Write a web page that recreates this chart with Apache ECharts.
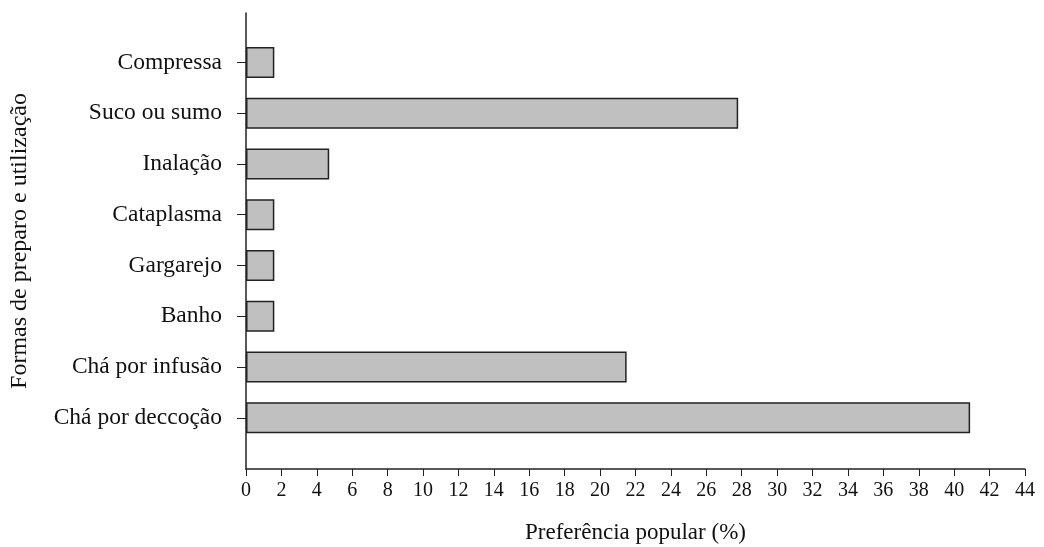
<!DOCTYPE html>
<html><head><meta charset="utf-8">
<script src="https://cdn.jsdelivr.net/npm/echarts@6/dist/echarts.min.js"></script>
<style>html,body{margin:0;padding:0;background:#fff}#c{width:1044px;height:547px}</style>
</head><body><div id="c"></div>
<script>
const categories = ['', 'Chá por deccoção','Chá por infusão','Banho','Gargarejo','Cataplasma','Inalação','Suco ou sumo','Compressa'];
const values = [null, 40.9, 21.5, 1.6, 1.6, 1.6, 4.7, 27.8, 1.6];
const xTicks = [0,2,4,6,8,10,12,14,16,18,20,22,24,26,28,30,32,34,36,38,40,42,44];
const font = 'Liberation Serif';
const chart = echarts.init(document.getElementById('c'));
chart.setOption({
  animation:false,
  grid:[{left:246,right:19,top:13,bottom:78,outerBoundsMode:'none'},{left:246,right:19,top:37,bottom:53,outerBoundsMode:'none'}],
  xAxis:[{type:'value',gridIndex:0,min:0,max:44,interval:2,
    name:'Preferência popular (%)',nameLocation:'middle',nameGap:52,
    nameTextStyle:{fontFamily:font,fontSize:23,color:'#111'},
    axisLine:{show:true,lineStyle:{color:'#222',width:1.5}},
    axisTick:{show:true,length:7,lineStyle:{color:'#222'}},
    axisLabel:{fontFamily:font,fontSize:20,color:'#111',margin:12,formatter:v=>xTicks.includes(v)?String(v):''},
    splitLine:{show:false}},
    {type:'value',gridIndex:1,min:0,max:44,show:false}],
  yAxis:[{type:'value',gridIndex:0,min:0,max:1,
    name:'Formas de preparo e utilização',nameLocation:'middle',nameGap:214,nameRotate:90,
    nameTextStyle:{fontFamily:font,fontSize:24,color:'#111'},
    axisLine:{show:true,lineStyle:{color:'#222',width:1.5}},
    axisTick:{show:false},axisLabel:{show:false},splitLine:{show:false}},
    {type:'category',gridIndex:1,data:categories,
    axisLine:{show:false},
    axisTick:{show:true,length:9,alignWithLabel:true,interval:i=>i>0,lineStyle:{color:'#222'}},
    axisLabel:{fontFamily:font,fontSize:23.5,color:'#111',margin:24},
    splitLine:{show:false}}],
  series:[{type:'bar',xAxisIndex:1,yAxisIndex:1,barWidth:31,data:values,
    itemStyle:{color:'#c0c0c0',borderColor:'#222',borderWidth:1.5}}]
});
</script></body></html>
